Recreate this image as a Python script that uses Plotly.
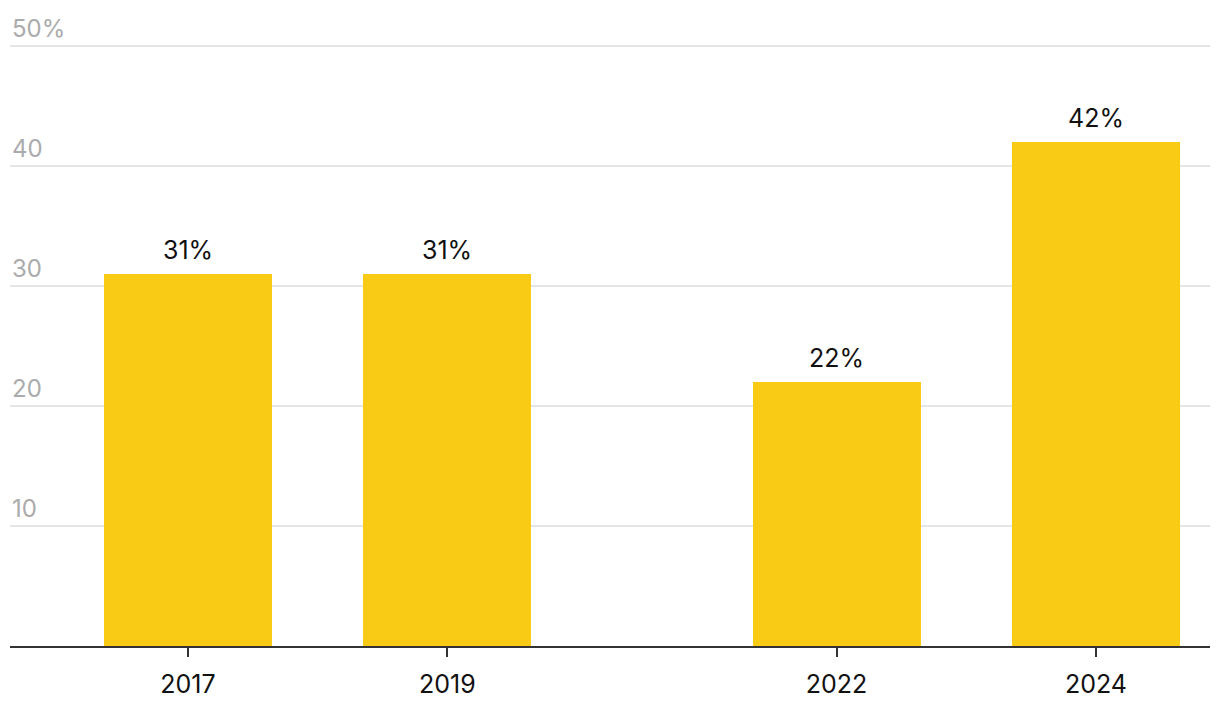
import plotly.graph_objects as go

years = [2017, 2019, 2022, 2024]
values = [31, 31, 22, 42]
value_labels = ["31%", "31%", "22%", "42%"]
y_ticks = [10, 20, 30, 40, 50]
y_tick_labels = ["10", "20", "30", "40", "50%"]

FONT = "Inter"
fig = go.Figure()
fig.add_trace(go.Bar(
    x=years, y=values, width=1.295,
    marker=dict(color="#F9CB15", line=dict(width=0)),
    hoverinfo="skip",
))

for xv, v, lab in zip(years, values, value_labels):
    fig.add_annotation(x=xv, y=v, text=lab, showarrow=False,
                       xanchor="center", yanchor="bottom", yshift=7,
                       font=dict(family=FONT, size=25, color="#111111"))

for v, lab in zip(y_ticks, y_tick_labels):
    fig.add_annotation(x=0, xref="paper", y=v, yref="y", text=lab,
                       showarrow=False, xanchor="left", yanchor="bottom",
                       xshift=0, yshift=1,
                       font=dict(family=FONT, size=24, color="#ababab"))

fig.update_layout(
    width=1220, height=716,
    margin=dict(l=10, r=10, t=45, b=70),
    paper_bgcolor="white", plot_bgcolor="white",
    showlegend=False,
    bargap=0,
    xaxis=dict(range=[2015.628, 2024.879], tickvals=years,
               ticktext=[str(y) for y in years],
               showgrid=False, zeroline=False,
               showline=True, linecolor="#333333", linewidth=2,
               ticks="outside", ticklen=9, tickwidth=2, tickcolor="#333333",
               ticklabelstandoff=6,
               tickfont=dict(family=FONT, size=25, color="#111111"),
               fixedrange=True),
    yaxis=dict(range=[0, 50.1], tickvals=y_ticks, showticklabels=False,
               showgrid=True, gridcolor="#e5e5e5", gridwidth=2,
               zeroline=False, fixedrange=True),
)

fig.write_html("out.html")
